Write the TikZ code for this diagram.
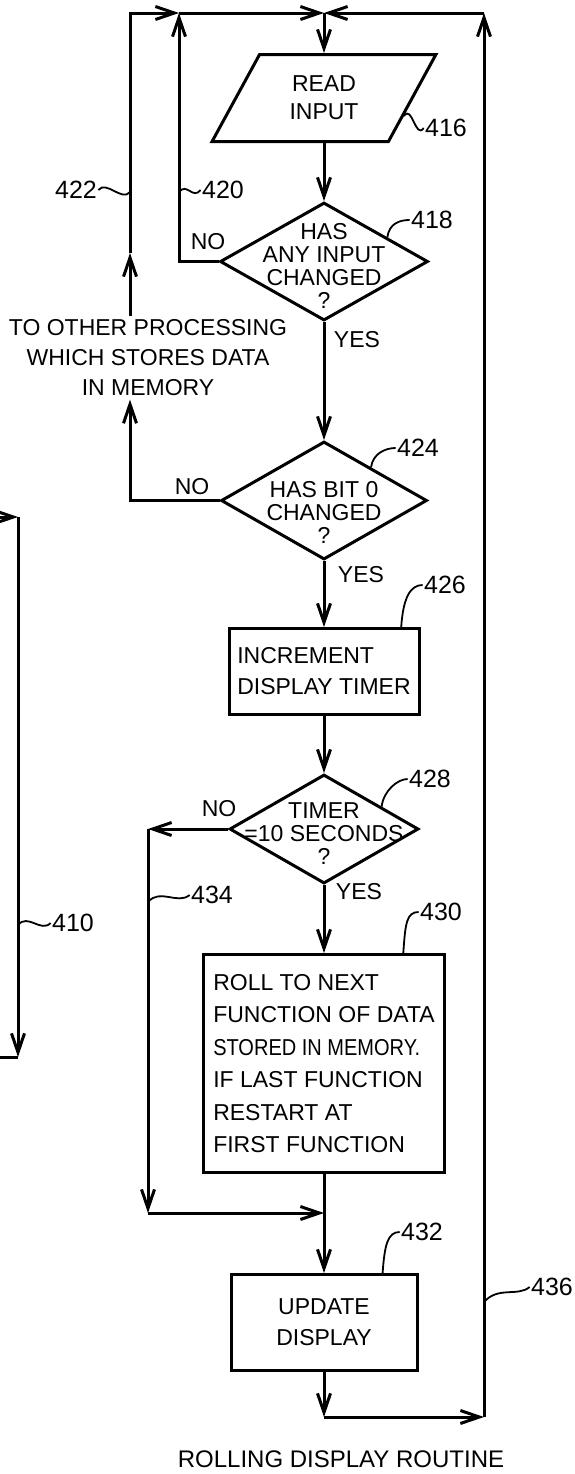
\documentclass[tikz,border=0pt]{standalone}
\usepackage{fontspec}
\usepackage{graphicx}
\setmainfont{Liberation Sans}
\usetikzlibrary{arrows.meta,positioning,shapes.geometric,calc}

\begin{document}
\begin{tikzpicture}[
x=0.5pt,y=-0.5pt,
line width=1.5pt,
node distance=30pt,
box/.style={draw,rectangle,inner sep=2pt,font=\fontsize{11.5}{15.5}\selectfont},
io/.style={draw,trapezium,trapezium left angle=60,trapezium right angle=120,trapezium stretches=true,minimum width=112.5pt,minimum height=43.5pt,align=center,inner sep=0pt,font=\fontsize{11.5}{14}\selectfont},
dia/.style={draw,diamond,inner sep=0pt},
dtxt/.style={align=center,inner sep=0pt,font=\fontsize{11.5}{11.5}\selectfont},
txt/.style={align=center,inner sep=1pt,font=\fontsize{11.5}{15}\selectfont},
lbl/.style={inner sep=0pt,font=\fontsize{11.5}{12}\selectfont},
num/.style={inner sep=0pt,font=\fontsize{12.5}{13}\selectfont},
ttl/.style={inner sep=0pt,font=\fontsize{12}{14}\selectfont},
arr/.style={-{Straight Barb[length=9.5pt,width=6.5pt]}},
lead/.style={line width=0.9pt}
]
\useasboundingbox (0,0) rectangle (574,1474);

% main column
\node[io] (read) at (324,98) {READ\\INPUT};
\node[dia,minimum width=104pt,minimum height=59pt,below=29pt of read.south,anchor=north] (chg) {};
\node[dtxt] (chgt) at ([yshift=-2pt]chg.center) {HAS\\ANY INPUT\\CHANGED\\?};
\node[dia,minimum width=103pt,minimum height=59pt,below=59pt of chg] (bit) {};
\node[dtxt] (bitt) at ([yshift=-6pt]bit.center) {HAS BIT 0\\CHANGED\\?};
\node[box,minimum width=95pt,minimum height=43pt,align=left,below=33pt of bit] (inc) {INCREMENT\\DISPLAY TIMER};
\node[dia,minimum width=94.5pt,minimum height=54.5pt,below=28.5pt of inc] (tmr) {};
\node[dtxt] (tmrt) at ([yshift=-2.5pt]tmr.center) {TIMER\\=10 SECONDS\\?};
\node[box,minimum width=120.5pt,minimum height=109pt,align=left,font=\fontsize{11.5}{16.25}\selectfont,below=34pt of tmr] (roll) {ROLL TO NEXT\\FUNCTION OF DATA\\\scalebox{0.87}[1]{STORED IN MEMORY.}\\IF LAST FUNCTION\\RESTART AT\\FIRST FUNCTION};
\node[box,minimum width=93pt,minimum height=48pt,align=center,below=49.5pt of roll] (upd) {UPDATE\\DISPLAY};

\node[txt] (other) at (148,358) {TO OTHER PROCESSING\\WHICH STORES DATA\\IN MEMORY};

% loop corners
\coordinate (tl) at (130,13);
\coordinate (tm) at (179,13);
\coordinate (tj) at (read.north |- tl);
\coordinate (tr) at (484,13);
\coordinate (bj) at (read.north |- 0,1417);
\coordinate (br) at (484,1417);
\coordinate (ua) at (130,253);
\coordinate (mj) at (read.north |- 0,1213);
\coordinate (ml) at (148,1213);
\coordinate (nl) at (ml |- tmr.west);
\coordinate (n1) at (tm |- chg.west);
\coordinate (n2) at (tl |- bit.west);

\draw[arr] (tj) -- (read.north);
\draw[arr] (read.south) -- (chg.north);
\draw[arr] (chg.south) -- (bit.north);
\draw[arr] (bit.south) -- (inc.north);
\draw[arr] (inc.south) -- (tmr.north);
\draw[arr] (tmr.south) -- (roll.north);
\draw[arr] (roll.south) -- (upd.north);

\draw[arr] (chg.west) -- (n1) -- (tm);
\draw[arr] (tm) -- (tj);
\draw[arr] (bit.west) -- (n2) -- (n2 |- other.south);
\draw[arr] (tl |- other.north) -- (ua);
\draw[arr] (ua) -- (tl) -- (tm);
\draw[arr] (tmr.west) -- (nl);
\draw[arr] (nl) -- (ml);
\draw[arr] (ml) -- (mj);
\draw[arr] (upd.south) -- (bj);
\draw[arr] (bj) -- (br);
\draw[arr] (br) -- (tr);
\draw[arr] (tr) -- (tj);

% cut-off path of routine 410
\coordinate (a1) at (0,517);
\coordinate (a2) at (18,517);
\coordinate (a3) at (18,1057);
\coordinate (a4) at (0,1057);
\draw[arr] (a1) -- (a2);
\draw[arr] (a2) -- (a3);
\draw (a3) -- (a4);

% branch labels
\node[lbl] (no1) at (208,242) {NO};
\node[lbl] (yes1) at (357,340) {YES};
\node[lbl] (no2) at (192,487) {NO};
\node[lbl] (yes2) at (361,575) {YES};
\node[lbl] (no3) at (219,809) {NO};
\node[lbl] (yes3) at (359,892) {YES};

% reference numerals
\node[num] (l416) at (446,128) {416};
\node[num] (l422) at (76,190) {422};
\node[num] (l420) at (223,190) {420};
\node[num] (l418) at (432,220) {418};
\node[num] (l424) at (418,448) {424};
\node[num] (l426) at (445,585) {426};
\node[num] (l428) at (430,779) {428};
\node[num] (l430) at (441,912) {430};
\node[num] (l434) at (212,895) {434};
\node[num] (l410) at (73,923) {410};
\node[num] (l432) at (422,1232) {432};
\node[num] (l436) at (552,1287) {436};

\coordinate (k416) at ($(read.bottom right corner)!0.3!(read.top right corner)$);
\coordinate (k422) at (130,192);
\coordinate (k420) at (179,192);
\coordinate (k418) at ($(chg.north)!0.6!(chg.east)$);
\coordinate (k424) at ($(bit.north)!0.45!(bit.east)$);
\coordinate (k426) at ($(inc.north)!0.8!(inc.north east)$);
\coordinate (k428) at ($(tmr.north)!0.6!(tmr.east)$);
\coordinate (k430) at ($(roll.north)!0.65!(roll.north east)$);
\coordinate (k432) at ($(upd.north)!0.62!(upd.north east)$);
\coordinate (k434) at (148,902);
\coordinate (k410) at (18,925);
\coordinate (k436) at (484,1302);

\draw[lead] (k416) .. controls +(8,-12) and +(-8,12) .. (l416.west);
\draw[lead] (l422.east) .. controls +(8,-10) and +(-8,10) .. (k422);
\draw[lead] (k420) .. controls +(8,-10) and +(-8,10) .. (l420.west);
\draw[lead] (k418) .. controls +(2,-14) and +(-10,0) .. (l418.west);
\draw[lead] (k424) .. controls +(2,-14) and +(-10,0) .. (l424.west);
\draw[lead] (k426) .. controls +(2,-30) and +(-12,0) .. (l426.west);
\draw[lead] (k428) .. controls +(2,-16) and +(-10,0) .. (l428.west);
\draw[lead] (k430) .. controls +(2,-30) and +(-12,0) .. (l430.west);
\draw[lead] (k432) .. controls +(2,-28) and +(-12,0) .. (l432.west);
\draw[lead] (k434) .. controls +(12,-14) and +(-12,10) .. (l434.west);
\draw[lead] (k410) .. controls +(10,-12) and +(-10,10) .. (l410.west);
\draw[lead] (k436) .. controls +(14,-16) and +(-12,10) .. (l436.west);

\node[ttl] (title) at (341,1459) {ROLLING DISPLAY ROUTINE};
\end{tikzpicture}
\end{document}
